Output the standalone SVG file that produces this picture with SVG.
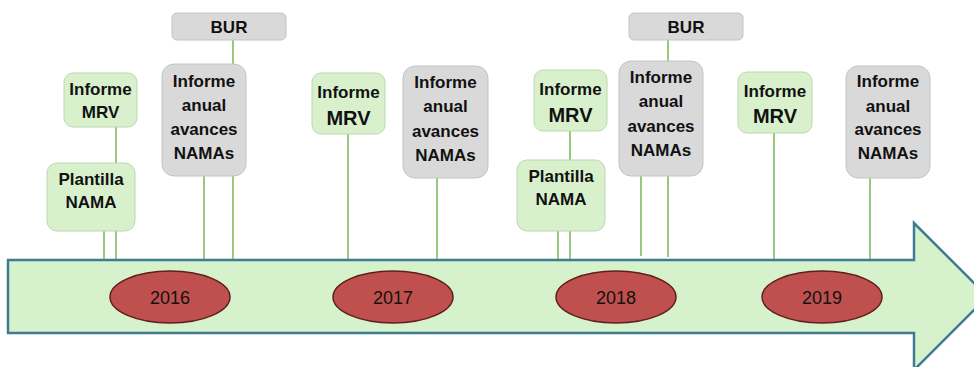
<svg xmlns="http://www.w3.org/2000/svg" width="974" height="367" viewBox="0 0 974 367">
<style>
.g{fill:#d8f1cc;stroke:#bcd8ae;stroke-width:1}
.s{fill:#d9d9d9;stroke:#c4c4c4;stroke-width:1}
.t{font-family:"Liberation Sans",Arial,sans-serif;font-weight:bold;font-size:17px;fill:#111;text-anchor:middle}
.b{font-size:20px}
.y{font-family:"Liberation Sans",Arial,sans-serif;font-size:18px;fill:#111;text-anchor:middle}
.yr{fill:#c0504d;stroke:#5e1f1d;stroke-width:1.5}
.c line{stroke:#76b853;stroke-width:1.5}
</style>
<g id="timeline">
<path d="M8,260 L914,260 L914,223 L987.5,296.5 L914,370 L914,333 L8,333 Z" fill="#d6f2cc" stroke="#3f7b92" stroke-width="2.5"/>
</g>
<g class="c" id="connectors">
<line x1="233" y1="40" x2="233" y2="64"/>
<line x1="116" y1="127" x2="116" y2="163"/>
<line x1="104" y1="231" x2="104" y2="259"/>
<line x1="116" y1="231" x2="116" y2="259"/>
<line x1="204" y1="176" x2="204" y2="259"/>
<line x1="233" y1="176" x2="233" y2="259"/>
<line x1="348" y1="134" x2="348" y2="259"/>
<line x1="437" y1="178" x2="437" y2="259"/>
<line x1="668" y1="40" x2="668" y2="61"/>
<line x1="570" y1="131" x2="570" y2="160"/>
<line x1="558" y1="231" x2="558" y2="259"/>
<line x1="570" y1="231" x2="570" y2="259"/>
<line x1="641" y1="176" x2="641" y2="256"/>
<line x1="668" y1="176" x2="668" y2="257"/>
<line x1="774" y1="133" x2="774" y2="259"/>
<line x1="870" y1="178" x2="870" y2="259"/>
</g>
<g id="bur1"><rect class="s" x="172" y="13" width="114" height="27" rx="5"/><text class="t" x="229" y="33">BUR</text></g>
<g id="anual2016"><rect class="s" x="162" y="64" width="84" height="112" rx="12"/><text class="t" x="204" y="87">Informe</text><text class="t" x="204" y="111">anual</text><text class="t" x="204" y="135">avances</text><text class="t" x="204" y="159">NAMAs</text></g>
<g id="mrv2016"><rect class="g" x="64" y="73" width="73" height="54" rx="9"/><text class="t" x="100.5" y="95">Informe</text><text class="t" x="100.5" y="118">MRV</text></g>
<g id="plantilla2016"><rect class="g" x="47" y="163" width="88" height="68" rx="10"/><text class="t" x="91" y="185">Plantilla</text><text class="t" x="91" y="208">NAMA</text></g>
<g id="mrv2017"><rect class="g" x="312" y="73" width="73" height="61" rx="9"/><text class="t" x="348.5" y="98">Informe</text><text class="t b" x="348.5" y="125">MRV</text></g>
<g id="anual2017"><rect class="s" x="403" y="66" width="85" height="112" rx="12"/><text class="t" x="445.5" y="88">Informe</text><text class="t" x="445.5" y="112">anual</text><text class="t" x="445.5" y="137">avances</text><text class="t" x="445.5" y="161">NAMAs</text></g>
<g id="bur2"><rect class="s" x="629" y="13" width="114" height="27" rx="5"/><text class="t" x="686" y="33">BUR</text></g>
<g id="mrv2018"><rect class="g" x="534" y="70" width="73" height="61" rx="9"/><text class="t" x="570.5" y="95">Informe</text><text class="t b" x="570.5" y="122">MRV</text></g>
<g id="plantilla2018"><rect class="g" x="517" y="160" width="88" height="71" rx="10"/><text class="t" x="561" y="182">Plantilla</text><text class="t" x="561" y="205">NAMA</text></g>
<g id="anual2018"><rect class="s" x="619" y="61" width="84" height="115" rx="12"/><text class="t" x="661" y="83">Informe</text><text class="t" x="661" y="107">anual</text><text class="t" x="661" y="132">avances</text><text class="t" x="661" y="156">NAMAs</text></g>
<g id="mrv2019"><rect class="g" x="738" y="72" width="74" height="61" rx="9"/><text class="t" x="775" y="97">Informe</text><text class="t b" x="775" y="123">MRV</text></g>
<g id="anual2019"><rect class="s" x="846" y="66" width="84" height="112" rx="12"/><text class="t" x="888" y="87">Informe</text><text class="t" x="888" y="112">anual</text><text class="t" x="888" y="135">avances</text><text class="t" x="888" y="159">NAMAs</text></g>
<g id="y2016"><ellipse class="yr" cx="170" cy="297" rx="60" ry="26"/><text class="y" x="170" y="304">2016</text></g>
<g id="y2017"><ellipse class="yr" cx="393" cy="297" rx="60" ry="26"/><text class="y" x="393" y="304">2017</text></g>
<g id="y2018"><ellipse class="yr" cx="616" cy="297" rx="60" ry="26"/><text class="y" x="616" y="304">2018</text></g>
<g id="y2019"><ellipse class="yr" cx="822" cy="297" rx="60" ry="26"/><text class="y" x="822" y="304">2019</text></g>
</svg>
